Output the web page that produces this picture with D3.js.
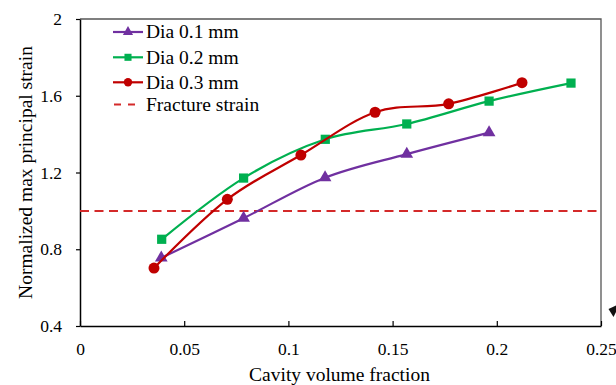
<!DOCTYPE html>
<html><head><meta charset="utf-8">
<script src="https://cdn.jsdelivr.net/npm/d3@7"></script>
<style>body{margin:0;background:#fff}svg{display:block}text{font-family:"Liberation Serif","Times New Roman",serif;fill:#000}</style>
</head><body><svg id="c" width="616" height="385"></svg>
<script>
const xTicks = [0, 0.05, 0.1, 0.15, 0.2, 0.25];
const yTicks = [0.4, 0.8, 1.2, 1.6, 2];
const dia01X = [0.039, 0.0785, 0.1176, 0.1568, 0.1963];
const dia01Y = [0.755, 0.962, 1.173, 1.296, 1.408];
const dia02X = [0.0392, 0.0785, 0.1177, 0.1568, 0.1963, 0.2356];
const dia02Y = [0.852, 1.171, 1.373, 1.453, 1.572, 1.666];
const dia03X = [0.0355, 0.0707, 0.106, 0.1416, 0.1769, 0.2121];
const dia03Y = [0.702, 1.060, 1.291, 1.514, 1.558, 1.668];
const fractureStrain = 1.0;
const seriesNames = ["Dia 0.1 mm", "Dia 0.2 mm", "Dia 0.3 mm", "Fracture strain"];

const svg = d3.select("#c");
const L = 80, R = 601, T = 19, B = 326;
const FS_TICK = 17.5, FS_TITLE = 19.5;
const x = d3.scaleLinear().domain([0, 0.25]).range([L, R]);
const y = d3.scaleLinear().domain([0.4, 2]).range([B, T]);

// frame top/right
svg.append("path").attr("d", `M${L},${T}H${R}V${B}`).attr("fill","none").attr("stroke","#555").attr("stroke-width",1.3);

// x axis (ticks inside)
const xa = svg.append("g").attr("transform", `translate(0,${B})`)
  .call(d3.axisBottom(x).tickValues(xTicks).tickSizeInner(-5).tickSizeOuter(0).tickPadding(17).tickFormat(d => d3.format("")(d)));
xa.select(".domain").attr("stroke","#000").attr("stroke-width",1.5);
xa.selectAll(".tick line").attr("stroke","#000").attr("stroke-width",1.2);
xa.selectAll("text").attr("font-size",FS_TICK);

// y axis
const ya = svg.append("g").attr("transform", `translate(${L},0)`)
  .call(d3.axisLeft(y).tickValues(yTicks).tickSizeInner(4).tickSizeOuter(0).tickPadding(14).tickFormat(d => d3.format("")(d)));
ya.select(".domain").attr("stroke","#000").attr("stroke-width",1.5);
ya.selectAll(".tick line").attr("stroke","#000").attr("stroke-width",1.2);
ya.selectAll("text").attr("font-size",FS_TICK);

// titles
svg.append("text").attr("x", 339.5).attr("y", 381).attr("text-anchor","middle").attr("font-size",FS_TITLE).text("Cavity volume fraction");
svg.append("text").attr("transform", `translate(32,${(T+B)/2}) rotate(-90)`).attr("text-anchor","middle").attr("font-size",FS_TITLE).text("Normalized max principal strain");

// fracture line
svg.append("line").attr("x1", L).attr("x2", R).attr("y1", y(fractureStrain)).attr("y2", y(fractureStrain))
  .attr("stroke","#d42a2a").attr("stroke-width",2).attr("stroke-dasharray","9,5.5");

const line = d3.line().x(d => x(d[0])).y(d => y(d[1])).curve(d3.curveCardinal.tension(0));
const series = [
  {xs: dia01X, ys: dia01Y, color: "#7030a0", sym: d3.symbolTriangle, size: 70, lsize: 45},
  {xs: dia02X, ys: dia02Y, color: "#00b050", sym: d3.symbolSquare, size: 85, lsize: 50},
  {xs: dia03X, ys: dia03Y, color: "#c00000", sym: d3.symbolCircle, size: 95, lsize: 55}
];
series.forEach(s => {
  const pts = s.xs.map((v,i) => [v, s.ys[i]]);
  svg.append("path").attr("d", line(pts)).attr("fill","none").attr("stroke", s.color).attr("stroke-width",2.2);
  svg.selectAll(null).data(pts).enter().append("path")
    .attr("d", d3.symbol().type(s.sym).size(s.size))
    .attr("transform", d => `translate(${x(d[0])},${y(d[1])})`)
    .attr("fill", s.color);
});

// legend
const ly = [32, 57.3, 82.3, 104.5];
series.forEach((s,i) => {
  svg.append("line").attr("x1",113).attr("x2",143).attr("y1",ly[i]).attr("y2",ly[i]).attr("stroke",s.color).attr("stroke-width",2.2);
  svg.append("path").attr("d", d3.symbol().type(s.sym).size(s.lsize)).attr("transform",`translate(128,${ly[i]})`).attr("fill",s.color);
  svg.append("text").attr("x",146).attr("y",ly[i]+6.3).attr("font-size",FS_TITLE).text(seriesNames[i]);
});
svg.append("line").attr("x1",114).attr("x2",136).attr("y1",ly[3]).attr("y2",ly[3]).attr("stroke","#d42a2a").attr("stroke-width",2).attr("stroke-dasharray","7,7");
svg.append("text").attr("x",146).attr("y",ly[3]+6.3).attr("font-size",FS_TITLE).text(seriesNames[3]);

// small cut-off pointer at right edge
svg.append("path").attr("d","M608.5,309 L616,305.5 L616,312 L613.5,317 Z").attr("fill","#111");
</script></body></html>
